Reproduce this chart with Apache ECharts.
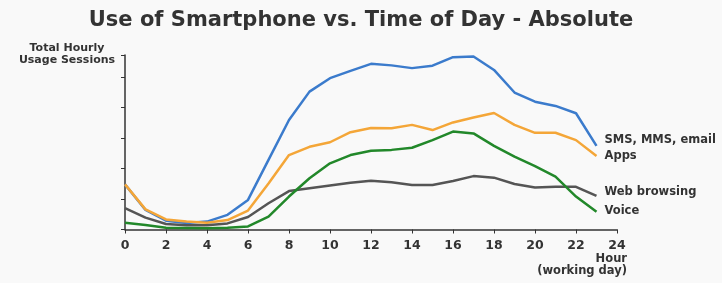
<!DOCTYPE html>
<html>
<head>
<meta charset="utf-8">
<script src="https://cdn.jsdelivr.net/npm/echarts@6/dist/echarts.min.js"></script>
<style>
  html, body { margin: 0; padding: 0; background: #f9f9f9; }
  #chart { width: 722px; height: 283px; }
</style>
</head>
<body>
<div id="chart"></div>
<script>
  const hours = [0, 1, 2, 3, 4, 5, 6, 7, 8, 9, 10, 11, 12, 13, 14, 15, 16, 17, 18, 19, 20, 21, 22, 23];
  const sms = [1.48, 0.64, 0.29, 0.21, 0.26, 0.48, 0.97, 2.28, 3.59, 4.52, 4.96, 5.2, 5.43, 5.38, 5.29, 5.37, 5.65, 5.67, 5.23, 4.49, 4.19, 4.05, 3.81, 2.74];
  const apps = [1.48, 0.66, 0.33, 0.26, 0.22, 0.31, 0.62, 1.51, 2.44, 2.71, 2.86, 3.19, 3.33, 3.32, 3.43, 3.26, 3.51, 3.67, 3.82, 3.43, 3.17, 3.17, 2.93, 2.41];
  const web = [0.7, 0.39, 0.18, 0.14, 0.14, 0.2, 0.41, 0.86, 1.26, 1.35, 1.44, 1.53, 1.6, 1.55, 1.46, 1.46, 1.59, 1.75, 1.7, 1.49, 1.38, 1.4, 1.4, 1.1];
  const voice = [0.22, 0.15, 0.06, 0.05, 0.04, 0.06, 0.1, 0.42, 1.08, 1.68, 2.17, 2.44, 2.58, 2.61, 2.68, 2.93, 3.21, 3.15, 2.74, 2.39, 2.08, 1.73, 1.08, 0.58];

  const FONT = 'DejaVu Sans';
  const chart = echarts.init(document.getElementById('chart'));

  function pairs(values) {
    return values.map((v, i) => [hours[i], v]);
  }

  function makeSeries(name, values, color, labelOffset) {
    return {
      name,
      type: 'line',
      data: pairs(values),
      symbol: 'none',
      lineStyle: { color, width: 2.5 },
      itemStyle: { color },
      endLabel: {
        show: true,
        formatter: name,
        distance: 8,
        offset: [0, labelOffset],
        color: '#333',
        fontFamily: FONT,
        fontWeight: 'bold',
        fontSize: 11.5,
      },
    };
  }

  function axisNameLine(text, top) {
    return {
      type: 'text',
      right: 95,
      top,
      style: { text, fill: '#333', font: 'bold 11.5px "DejaVu Sans"' },
    };
  }

  chart.setOption({
    animation: false,
    backgroundColor: '#f9f9f9',
    title: {
      text: 'Use of Smartphone vs. Time of Day - Absolute',
      left: 'center',
      top: 5,
      textStyle: { color: '#333', fontFamily: FONT, fontWeight: 'bold', fontSize: 21 },
    },
    grid: { left: 125, right: 105, top: 55, bottom: 53.5 },
    // x axis name sits under the last tick label, right aligned
    graphic: [
      axisNameLine('Hour', 253),
      axisNameLine('(working day)', 265),
    ],
    xAxis: {
      type: 'value',
      min: 0,
      max: 24,
      interval: 2,
      splitLine: { show: false },
      axisLine: { lineStyle: { color: '#333', width: 1.5 } },
      axisTick: { show: true, length: 4, lineStyle: { color: '#333' } },
      axisLabel: { color: '#333', fontFamily: FONT, fontWeight: 'bold', fontSize: 12.5, margin: 10 },
    },
    yAxis: {
      type: 'value',
      min: 0,
      max: 5.72,
      interval: 1,
      splitLine: { show: false },
      axisLine: { show: true, lineStyle: { color: '#333', width: 1.5 } },
      axisTick: { show: true, length: 4, lineStyle: { color: '#333' } },
      axisLabel: { show: false },
      name: 'Total Hourly\nUsage Sessions',
      nameLocation: 'end',
      nameGap: 1,
      nameTextStyle: {
        color: '#333',
        fontFamily: FONT,
        fontWeight: 'bold',
        fontSize: 11,
        align: 'center',
        verticalAlign: 'middle',
        lineHeight: 12,
        padding: [0, 116, 0, 0],
      },
    },
    series: [
      makeSeries('SMS, MMS, email', sms, '#3b7bcc', -6),
      makeSeries('Apps', apps, '#f4a638', 0),
      makeSeries('Web browsing', web, '#555555', -4),
      makeSeries('Voice', voice, '#22882a', -1),
    ],
  });
</script>
</body>
</html>
